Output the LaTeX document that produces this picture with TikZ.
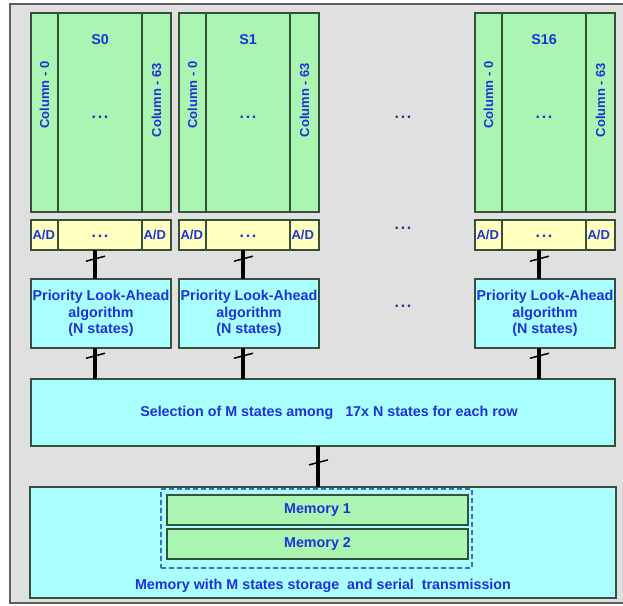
\documentclass[tikz,border=0pt]{standalone}
\usepackage{fontspec}
\setmainfont{Liberation Sans}
\usetikzlibrary{calc}
\definecolor{bgray}{RGB}{224,224,224}
\definecolor{framegray}{RGB}{95,95,95}
\definecolor{sgreen}{RGB}{170,245,178}
\definecolor{syellow}{RGB}{255,255,190}
\definecolor{scyan}{RGB}{170,255,255}
\definecolor{sblue}{RGB}{30,50,220}
\definecolor{sedge}{RGB}{55,80,60}
\definecolor{dotblue}{RGB}{50,50,150}
\definecolor{dashblue}{RGB}{60,110,200}
\newcommand\dotsrow{.\kern1.6pt.\kern1.6pt.}
\newcommand\mkslice[3]{%
  % columns
  \node[gcell, minimum width=27, minimum height=199] (#1c0) at (#2,13) {};
  \node[gcell, minimum width=84, minimum height=199] (#1mid) at (#1c0.north east) {};
  \node[gcell, minimum width=29, minimum height=199] (#1c63) at (#1mid.north east) {};
  \node[collabel] (#1l0) at (#1c0 |- 0,95) {Column - 0};
  \node[collabel] (#1l63) at (#1c63 |- 0,100) {Column - 63};
  \node (#1name) at (#1mid |- 0,40) {#3};
  \node[dotlabel] (#1dots) at (#1mid |- 0,117) {\dotsrow};
  % A/D row
  \node[ycell, minimum width=27, minimum height=30] (#1a0) at (#2,220) {};
  \node[ycell, minimum width=84, minimum height=30] (#1amid) at (#1a0.north east) {};
  \node[ycell, minimum width=29, minimum height=30] (#1a63) at (#1amid.north east) {};
  \node[adlabel] (#1ad0) at ($(#1a0.west)+(1.5,0)$) {A/D};
  \node[adlabel] (#1ad63) at ($(#1a63.west)+(1.5,0)$) {A/D};
  \node[dotlabel] (#1adots) at ($(#1amid.center)+(0,1)$) {\dotsrow};
  % priority block
  \node[ccell, minimum width=140, minimum height=69, align=center] (#1pla) at (#2,279)
    {Priority Look-Ahead\\algorithm\\(N states)};
  % buses
  \coordinate (#1b1) at ($(#1amid.south)+(-5,0)$);
  \draw[bus] (#1b1) -- coordinate[pos=.3] (#1t1) (#1b1 |- #1pla.north);
  \draw[tickline] ($(#1t1)+(-9,2.5)$) -- ($(#1t1)+(10,-2.5)$);
  \draw[bus] (#1b1 |- #1pla.south) -- coordinate[pos=.25] (#1t2) (#1b1 |- sel.north);
  \draw[tickline] ($(#1t2)+(-9,2.5)$) -- ($(#1t2)+(10,-2.5)$);
}
\begin{document}
\begin{tikzpicture}[x=1pt,y=-1pt,
  every node/.style={font=\bfseries\fontsize{14.3}{16.5}\selectfont, text=sblue, inner sep=0pt, outer sep=0pt},
  cell/.style={draw=sedge, line width=1.2pt, anchor=north west, rectangle},
  gcell/.style={cell, fill=sgreen},
  ycell/.style={cell, fill=syellow},
  ccell/.style={cell, fill=scyan},
  collabel/.style={rotate=90, font=\bfseries\fontsize{13}{15}\selectfont},
  adlabel/.style={anchor=west, font=\bfseries\fontsize{13}{15}\selectfont},
  dotlabel/.style={font=\bfseries\fontsize{16}{18}\selectfont},
  bus/.style={line width=3.5pt, black},
  tickline/.style={line width=1.5pt, black},
  ell/.style={dotlabel, text=dotblue}]
\useasboundingbox (0,0) rectangle (623,605);
\fill[bgray] (10,4) rectangle (630,603);
\draw[framegray, line width=1.2pt] (630,4) -- (10,4) -- (10,603) -- (630,603);
% selection and memory
\node[ccell, minimum width=584, minimum height=67] (sel) at (31,379) {};
\node (seltext) at ($(sel.center)+(6,0)$) {Selection of M states among \ \ 17x N states for each row};
\node[ccell, minimum width=586, minimum height=111] (mem) at (30,487) {};
\node[anchor=north west, draw=dashblue, dash pattern=on 5pt off 3pt, line width=1.2pt, minimum width=311, minimum height=79] (dbox) at (161,489) {};
\node[gcell, minimum width=301, minimum height=30] (m1) at (167,495) {};
\node (m1t) at (m1.center) {Memory 1};
\node[gcell, minimum width=301, minimum height=30] (m2) at (167,529) {};
\node (m2t) at (m2.center) {Memory 2};
\node (memt) at (323,586) {Memory with M states storage \ and serial \ transmission};
% slices
\mkslice{s0}{31}{S0}
\mkslice{s1}{179}{S1}
\mkslice{s16}{475}{S16}
% middle ellipses
\node[ell] (e1) at (403,117) {\dotsrow};
\node[ell] (e2) at (403,228) {\dotsrow};
\node[ell] (e3) at (403,306) {\dotsrow};
% bottom bus
\coordinate (bb) at ($(sel.south)+(-5,0)$);
\draw[bus] (bb) -- coordinate[pos=.4] (bt) (bb |- mem.north);
\draw[tickline] ($(bt)+(-9,2.5)$) -- ($(bt)+(10,-2.5)$);
\end{tikzpicture}
\end{document}
